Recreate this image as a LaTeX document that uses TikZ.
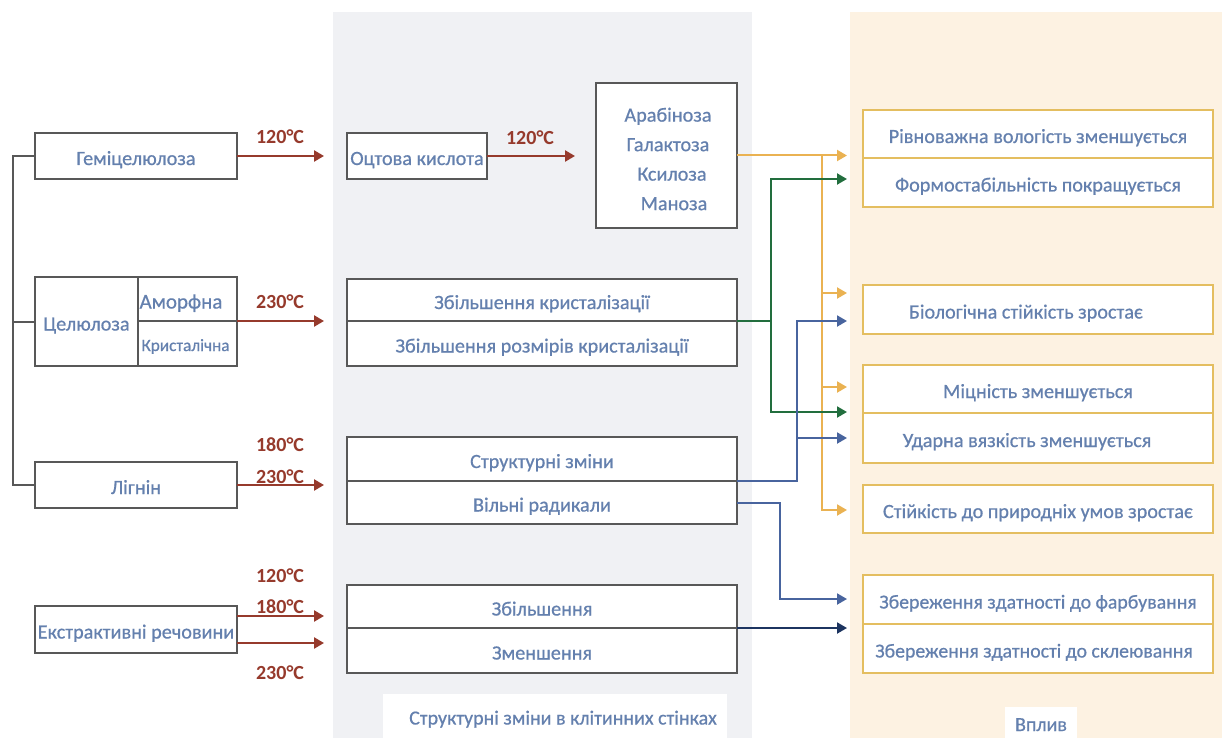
\documentclass[tikz,border=0pt]{standalone}
\usepackage{fontspec}
\setmainfont{Carlito}
\newfontfamily\medfont{Carlito}[FakeBold=0.6]
\usetikzlibrary{arrows.meta}
\definecolor{txt}{RGB}{100,128,174}
\definecolor{boxgray}{RGB}{88,88,88}
\definecolor{redc}{RGB}{150,58,44}
\definecolor{gold}{RGB}{228,190,96}
\definecolor{ylw}{RGB}{234,178,82}
\definecolor{grn}{RGB}{34,110,62}
\definecolor{blu}{RGB}{72,100,158}
\definecolor{navy}{RGB}{28,52,96}
\definecolor{graybg}{RGB}{240,241,244}
\definecolor{beige}{RGB}{253,242,226}
\begin{document}
\begin{tikzpicture}[x=1pt,y=-1pt,
  base/.style={inner sep=0pt, outer sep=0pt, fill=white, text=txt, font=\medfont\fontsize{20.2}{24}\selectfont, text height=18pt, text depth=0pt},
  gbox/.style={base, draw=boxgray, line width=2pt},
  ybox/.style={base, draw=gold, line width=2pt, minimum width=350pt},
  tip/.style={-{Triangle[length=10pt,width=11pt]}},
  redarr/.style={tip, draw=redc, line width=2.4pt},
  ylwarr/.style={tip, draw=ylw, line width=2pt},
  grnarr/.style={tip, draw=grn, line width=2pt},
  bluarr/.style={tip, draw=blu, line width=2pt},
  navarr/.style={tip, draw=navy, line width=2pt},
  busline/.style={draw=boxgray, line width=2pt},
  temp/.style={text=redc, font=\bfseries\fontsize{20}{22}\selectfont, inner sep=0pt},
  lab/.style={inner sep=0pt, fill=white, text=txt, font=\medfont\fontsize{20}{24}\selectfont, text height=17pt, text depth=0pt}
]
\useasboundingbox (0,0) rectangle (1231,738);
\fill[white] (0,0) rectangle (1231,738);
\fill[graybg] (333,12) rectangle (752,738);
\fill[beige] (850,12) rectangle (1222,738);

% left column
\node[gbox, minimum width=202pt, minimum height=46pt] (hemi) at (136,156) {Геміцелюлоза};
\node[gbox, minimum width=103pt, minimum height=89pt] (cl) at (86.5,321.5) {Целюлоза};
\node[gbox, minimum width=99pt, minimum height=44pt, font=\medfont\fontsize{21}{24}\selectfont, text height=19pt] (am) at (187.5,299) {\hspace*{-13pt}Аморфна};
\node[gbox, minimum width=99pt, minimum height=45pt, font=\medfont\fontsize{17.2}{20}\selectfont, text height=15pt] (kr) at (187.5,343.5) {\hspace*{-4pt}Кристалічна};
\node[gbox, minimum width=202pt, minimum height=46pt] (lign) at (136,485) {Лігнін};
\node[gbox, minimum width=202pt, minimum height=47pt] (extr) at (136,629.5) {Екстрактивні речовини};

\coordinate (busx) at (13,0);
\draw[busline] (hemi.west) -- (hemi.west -| busx) |- (lign.west);
\draw[busline] (cl.west) -- (cl.west -| busx);

% red arrows
\coordinate (th) at (324,156);
\coordinate (tc) at (324,321);
\coordinate (tl) at (324,485);
\coordinate (te1) at (324,616);
\coordinate (te2) at (324,643);
\draw[redarr] (hemi.east) -- (th);
\draw[redarr] (am.south east) -- (tc);
\draw[redarr] (lign.east) -- (tl);
\draw[redarr] (extr.east |- te1) -- (te1);
\draw[redarr] (extr.east |- te2) -- (te2);
\node[temp] (l1) at (280,137) {120°C};
\node[temp] (l2) at (280,302) {230°C};
\node[temp] (l3) at (280,445) {180°C};
\node[temp] (l4) at (280,477) {230°C};
\node[temp] (l5) at (280,576) {120°C};
\node[temp] (l6) at (280,607) {180°C};
\node[temp] (l7) at (280,673) {230°C};

% middle column
\node[gbox, minimum width=140pt, minimum height=46pt] (acid) at (417,156) {Оцтова кислота};
\coordinate (ta) at (575,156);
\draw[redarr] (acid.east) -- (ta);
\node[temp] (l8) at (530,138) {120°C};
\node[gbox, minimum width=141pt, minimum height=145pt, text height={}, text depth={}] (sugar) at (666.5,155.5) {};
\node[inner sep=0pt, text=txt, align=center, font=\medfont\fontsize{20.2}{29.5}\selectfont] (sugartxt) at (668,159)
  {Арабіноза\\Галактоза\\\hspace*{8pt}Ксилоза\\\hspace*{12pt}Маноза};

\node[gbox, minimum width=390pt, minimum height=42pt] (cr1) at (542,300) {Збільшення кристалізації};
\node[gbox, minimum width=390pt, minimum height=45pt] (cr2) at (542,343.5) {Збільшення розмірів кристалізації};
\node[gbox, minimum width=390pt, minimum height=44pt] (lg1) at (542,459) {Структурні зміни};
\node[gbox, minimum width=390pt, minimum height=43pt] (lg2) at (542,502.5) {Вільні радикали};
\node[gbox, minimum width=390pt, minimum height=43pt] (ex1) at (542,606.5) {Збільшення};
\node[gbox, minimum width=390pt, minimum height=45pt] (ex2) at (542,650.5) {Зменшення};

% right column
\node[ybox, minimum height=48pt] (r1a) at (1038,134) {Рівноважна вологість зменшується};
\node[ybox, minimum height=49pt] (r1b) at (1038,182.5) {Формостабільність покращується};
\node[ybox, minimum height=49pt] (r2) at (1038,309.5) {\hspace*{-24pt}Біологічна стійкість зростає};
\node[ybox, minimum height=48pt] (r3a) at (1038,389) {Міцність зменшується};
\node[ybox, minimum height=50pt] (r3b) at (1038,438) {\hspace*{-22pt}Ударна вязкість зменшується};
\node[ybox, minimum height=48pt] (r4) at (1038,509) {Стійкість до природніх умов зростає};
\node[ybox, minimum height=49pt, font=\medfont\fontsize{19.8}{24}\selectfont] (r5a) at (1038,599.5) {Збереження здатності до фарбування};
\node[ybox, minimum height=49pt, font=\medfont\fontsize{19.8}{24}\selectfont] (r5b) at (1038,648.5) {\hspace*{-8pt}Збереження здатності до склеювання};

% connectors
\coordinate (ay1) at (847,155.5);
\coordinate (ay2) at (847,293);
\coordinate (ay3) at (847,387);
\coordinate (ay4) at (847,510);
\coordinate (yb) at (822,155.5);
\draw[ylwarr] (sugar.east) -- (ay1);
\draw[ylwarr] (yb) |- (ay2);
\draw[ylwarr] (yb) |- (ay3);
\draw[ylwarr] (yb) |- (ay4);

\coordinate (gb) at (771,321);
\coordinate (ag1) at (847,179);
\coordinate (ag2) at (847,412);
\draw[grnarr] (cr1.south east) -- (gb) |- (ag1);
\draw[grnarr] (gb) |- (ag2);

\coordinate (bb) at (797,481);
\coordinate (ab1) at (847,321);
\coordinate (ab2) at (847,438);
\draw[bluarr] (lg1.south east) -- (bb) |- (ab1);
\draw[bluarr] (bb) |- (ab2);

\coordinate (b2) at (780,0);
\coordinate (ab3) at (847,599);
\draw[bluarr] (lg2.east) -- (lg2.east -| b2) |- (ab3);

\coordinate (an) at (847,628);
\draw[navarr] (ex1.south east) -- (an);

% captions
\node[lab, minimum width=344pt, minimum height=44pt] (cap1) at (555,716) {\hspace*{16pt}Структурні зміни в клітинних стінках};
\node[lab, minimum width=72pt, minimum height=31pt] (cap2) at (1041,722.5) {Вплив};
\end{tikzpicture}
\end{document}
